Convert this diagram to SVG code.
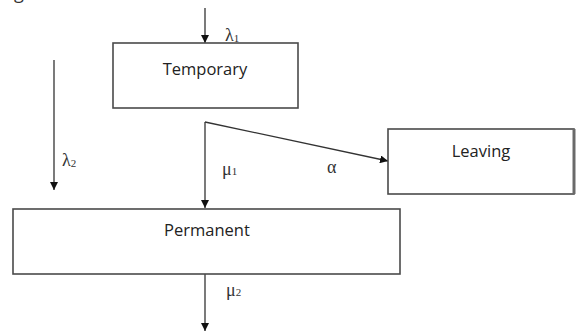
<svg xmlns="http://www.w3.org/2000/svg" width="580" height="332" viewBox="0 0 580 332">
<style>
.box{fill:#fff;stroke:#4a4a4a;stroke-width:1.6}
.lbl{font-family:"Open Sans","Liberation Sans",sans-serif;font-size:16.5px;fill:#222;text-anchor:middle}
.gr{font-family:"Liberation Serif",serif;font-size:18px;fill:#333}
.sub{font-size:11px}
.ln{fill:none;stroke:#333;stroke-width:1.3}
</style>
<defs>
<marker id="ah" viewBox="0 0 10 10" refX="10" refY="5" markerWidth="8" markerHeight="8" markerUnits="userSpaceOnUse" orient="auto">
<path d="M0,0 L10,5 L0,10 Z" fill="#111"/>
</marker>
</defs>
<rect width="580" height="332" fill="#fff"/>
<text x="14" y="-1" style="font-family:'Open Sans',sans-serif;font-size:18px;fill:#333">g</text>
<g id="connectors">
<line class="ln" x1="205" y1="8" x2="205" y2="43" marker-end="url(#ah)"/>
<line class="ln" x1="54" y1="60" x2="54" y2="190" marker-end="url(#ah)"/>
<line class="ln" x1="205" y1="122" x2="388" y2="161" marker-end="url(#ah)"/>
<line class="ln" x1="205" y1="122" x2="205" y2="208" marker-end="url(#ah)"/>
<line class="ln" x1="205" y1="274" x2="205" y2="331" marker-end="url(#ah)"/>
<text class="gr" x="225" y="41">λ<tspan class="sub" dy="1">1</tspan></text>
<text class="gr" x="62" y="166">λ<tspan class="sub" dy="1">2</tspan></text>
<text class="gr" x="222" y="175">μ<tspan class="sub">1</tspan></text>
<text class="gr" x="327" y="173">α</text>
<text class="gr" x="226" y="296">μ<tspan class="sub">2</tspan></text>
</g>
<g id="temporary">
<rect class="box" x="113" y="43" width="185" height="65"/>
<text class="lbl" x="205" y="75">Temporary</text>
</g>
<g id="leaving">
<rect class="box" x="388" y="129" width="186" height="65"/>
<line x1="574" y1="129" x2="574" y2="194" stroke="#6a6a6a" stroke-width="3"/>
<text class="lbl" x="481" y="157">Leaving</text>
</g>
<g id="permanent">
<rect class="box" x="13" y="209" width="387" height="65"/>
<text class="lbl" x="207" y="236">Permanent</text>
</g>
</svg>
